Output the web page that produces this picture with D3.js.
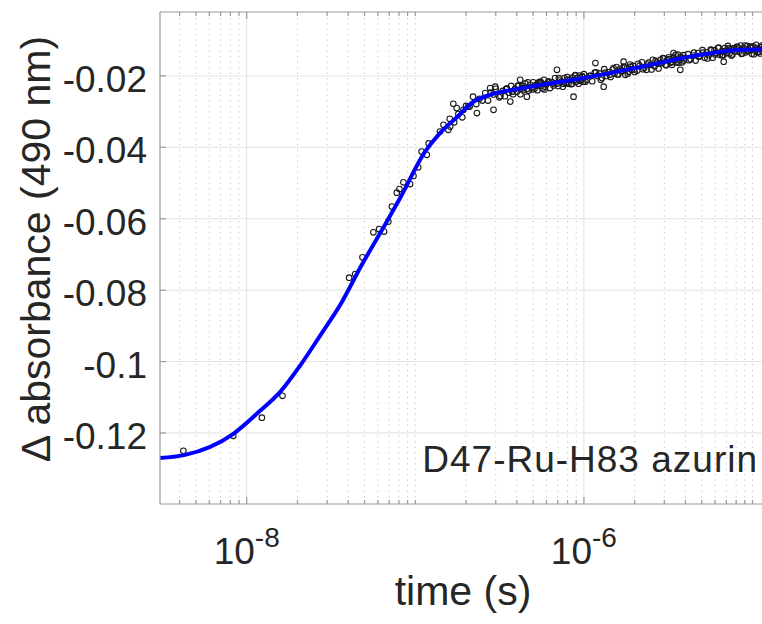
<!DOCTYPE html>
<html>
<head>
<meta charset="utf-8">
<script src="https://cdn.jsdelivr.net/npm/d3@7"></script>
<style>
  body { margin: 0; background: #fff; }
  svg { display: block; }
  text { font-family: "Liberation Sans", Arial, sans-serif; fill: #262626; }
</style>
</head>
<body>
<div id="container"></div>
<script>
// fitted curve (blue)
const fitTime = [3.06e-9, 4.25e-9, 8.3e-9, 1.2e-8, 1.58e-8, 2.07e-8, 2.72e-8, 3.67e-8, 4.7e-8, 6.44e-8,
    8.13e-8, 1.14e-7, 1.4e-7, 1.77e-7, 2.2e-7, 2.78e-7, 4.37e-7, 9.91e-7, 2.16e-6, 4.9e-6, 8.47e-6, 1.2e-5];
const fitAbs = [-0.1270, -0.1262, -0.1203, -0.1138, -0.1085, -0.1012, -0.0928, -0.0833, -0.0738, -0.0626,
    -0.0542, -0.0413, -0.0360, -0.0315, -0.0273, -0.0253, -0.0234, -0.0206, -0.0175, -0.0141, -0.0127, -0.0125];

// measured points (open circles)
const obsTime = [
    4.21e-9, 8.32e-9, 1.23e-8, 1.63e-8, 4.05e-8, 4.4e-8, 4.86e-8, 5.64e-8, 6.1e-8, 6.53e-8,
    6.92e-8, 7.26e-8, 7.77e-8, 8.05e-8, 8.5e-8, 9.31e-8, 9.75e-8, 1.04e-7, 1.09e-7, 1.17e-7,
    1.2e-7, 1.4e-7, 1.47e-7, 1.57e-7, 1.61e-7, 1.68e-7, 1.76e-7, 1.93e-7, 2.06e-7, 2.32e-7,
    2.91e-7, 2.78e-7, 2.98e-7, 3.66e-7, 4.19e-7, 4.59e-7, 5.51e-7, 6.92e-7, 8.68e-7, 1.17e-6,
    1.31e-6, 1.72e-6, 3.4e-6, 3.73e-6, 6.75e-6,
    1.6e-7, 1.7e-7, 1.8e-7, 1.9e-7, 2.0e-7, 2.1e-7, 2.2e-7, 2.3e-7, 2.4e-7, 2.5e-7,
    2.6e-7, 2.7e-7, 2.8e-7, 2.9e-7, 3.0e-7,
    3.2e-7, 3.3e-7, 3.4e-7, 3.5e-7, 3.6e-7, 3.7e-7, 3.8e-7, 3.9e-7, 4.0e-7, 4.1e-7,
    4.2e-7, 4.3e-7, 4.4e-7, 4.5e-7, 4.6e-7, 4.7e-7, 4.8e-7, 4.9e-7, 5.0e-7, 5.1e-7,
    5.2e-7, 5.3e-7, 5.4e-7, 5.5e-7, 5.6e-7, 5.7e-7, 5.8e-7, 5.9e-7, 6.0e-7,
    6.15e-7, 6.3e-7, 6.45e-7, 6.6e-7, 6.75e-7, 6.9e-7, 7.05e-7, 7.2e-7, 7.35e-7, 7.5e-7,
    7.65e-7, 7.8e-7, 7.95e-7, 8.1e-7, 8.25e-7, 8.4e-7, 8.55e-7, 8.7e-7, 8.85e-7, 9.0e-7,
    9.15e-7, 9.3e-7, 9.45e-7, 9.6e-7, 9.75e-7, 9.9e-7,
    1.0e-6, 1.04e-6, 1.08e-6, 1.12e-6, 1.16e-6, 1.2e-6, 1.24e-6, 1.28e-6, 1.32e-6, 1.36e-6,
    1.4e-6, 1.44e-6, 1.48e-6, 1.52e-6, 1.56e-6, 1.6e-6, 1.64e-6, 1.68e-6, 1.72e-6, 1.76e-6,
    1.8e-6, 1.84e-6, 1.88e-6, 1.92e-6, 1.96e-6, 2.0e-6,
    2.07e-6, 2.14e-6, 2.21e-6, 2.28e-6, 2.35e-6, 2.42e-6, 2.49e-6, 2.56e-6, 2.63e-6, 2.7e-6,
    2.77e-6, 2.84e-6, 2.91e-6, 2.98e-6, 3.05e-6, 3.12e-6, 3.19e-6, 3.26e-6, 3.33e-6, 3.4e-6,
    3.47e-6, 3.54e-6, 3.61e-6, 3.68e-6, 3.75e-6, 3.82e-6, 3.89e-6, 3.96e-6,
    4.15e-6, 4.3e-6, 4.45e-6, 4.6e-6, 4.75e-6, 4.9e-6, 5.05e-6, 5.2e-6, 5.35e-6, 5.5e-6,
    5.65e-6, 5.8e-6, 5.95e-6, 6.1e-6, 6.25e-6, 6.4e-6, 6.55e-6, 6.7e-6, 6.85e-6, 7.0e-6,
    7.15e-6, 7.3e-6, 7.45e-6, 7.6e-6, 7.75e-6, 7.9e-6,
    8.1e-6, 8.3e-6, 8.5e-6, 8.7e-6, 8.9e-6, 9.1e-6, 9.3e-6, 9.5e-6, 9.7e-6, 9.9e-6,
    1.01e-5, 1.03e-5, 1.05e-5, 1.07e-5, 1.09e-5, 1.11e-5, 1.13e-5, 1.15e-5, 1.17e-5, 1.19e-5,
    3.15e-7, 3.45e-7, 3.75e-7, 4.05e-7, 4.35e-7, 4.65e-7, 4.95e-7, 5.25e-7, 5.55e-7, 5.85e-7,
    6.2e-7, 6.7e-7, 7.1e-7, 7.6e-7, 8.0e-7, 8.5e-7, 8.9e-7, 9.4e-7, 9.8e-7,
    1.02e-6, 1.1e-6, 1.18e-6, 1.26e-6, 1.34e-6, 1.42e-6, 1.5e-6, 1.58e-6, 1.66e-6, 1.74e-6,
    1.82e-6, 1.9e-6, 1.98e-6,
    2.1e-6, 2.24e-6, 2.38e-6, 2.52e-6, 2.66e-6, 2.8e-6, 2.94e-6, 3.08e-6, 3.22e-6, 3.36e-6,
    3.5e-6, 3.64e-6, 3.78e-6, 3.92e-6,
    4.2e-6, 4.5e-6, 4.8e-6, 5.1e-6, 5.4e-6, 5.7e-6, 6.0e-6, 6.3e-6, 6.6e-6, 6.9e-6,
    7.2e-6, 7.5e-6, 7.8e-6,
    8.2e-6, 8.6e-6, 9.0e-6, 9.4e-6, 9.8e-6, 1.02e-5, 1.06e-5, 1.1e-5, 1.14e-5, 1.18e-5
];
const obsAbs = [
    -0.1250, -0.1208, -0.1157, -0.1096, -0.0765, -0.0755, -0.0708, -0.0638, -0.0629, -0.0636,
    -0.0608, -0.0566, -0.0527, -0.0517, -0.0498, -0.0503, -0.0480, -0.0456, -0.0412, -0.0421,
    -0.0389, -0.0356, -0.0337, -0.0351, -0.0342, -0.0278, -0.0290, -0.0295, -0.0286, -0.0304,
    -0.0295, -0.0234, -0.0230, -0.0272, -0.0211, -0.0258, -0.0216, -0.0183, -0.0258, -0.0164,
    -0.0230, -0.0160, -0.0136, -0.0183, -0.0160,
    -0.0320, -0.0330, -0.0307, -0.0316, -0.0284, -0.0286, -0.0258, -0.0279, -0.0264, -0.0269,
    -0.0248, -0.0269, -0.0247, -0.0252, -0.0236,
    -0.0256, -0.0242, -0.0257, -0.0235, -0.0247, -0.0228, -0.0251, -0.0236, -0.0244, -0.0227,
    -0.0251, -0.0228, -0.0234, -0.0221, -0.0236, -0.0241, -0.0225, -0.0232, -0.0218, -0.0235,
    -0.0225, -0.0240, -0.0218, -0.0227, -0.0221, -0.0235, -0.0211, -0.0230, -0.0222,
    -0.0215, -0.0234, -0.0217, -0.0227, -0.0206, -0.0222, -0.0228, -0.0211, -0.0216, -0.0230,
    -0.0206, -0.0220, -0.0203, -0.0222, -0.0211, -0.0223, -0.0205, -0.0213, -0.0199, -0.0216,
    -0.0206, -0.0222, -0.0199, -0.0212, -0.0202, -0.0216,
    -0.0195, -0.0211, -0.0200, -0.0215, -0.0191, -0.0200, -0.0193, -0.0206, -0.0181, -0.0200,
    -0.0190, -0.0203, -0.0182, -0.0193, -0.0175, -0.0196, -0.0180, -0.0187, -0.0174, -0.0197,
    -0.0178, -0.0188, -0.0168, -0.0183, -0.0172, -0.0189,
    -0.0185, -0.0171, -0.0162, -0.0177, -0.0183, -0.0163, -0.0169, -0.0155, -0.0173, -0.0163,
    -0.0179, -0.0155, -0.0164, -0.0151, -0.0169, -0.0156, -0.0148, -0.0163, -0.0169, -0.0148,
    -0.0154, -0.0162, -0.0140, -0.0156, -0.0146, -0.0162, -0.0142, -0.0151,
    -0.0139, -0.0153, -0.0143, -0.0157, -0.0136, -0.0144, -0.0128, -0.0149, -0.0134, -0.0142,
    -0.0126, -0.0149, -0.0128, -0.0136, -0.0122, -0.0141, -0.0131, -0.0142, -0.0122, -0.0136,
    -0.0116, -0.0137, -0.0125, -0.0140, -0.0122, -0.0131,
    -0.0118, -0.0132, -0.0115, -0.0137, -0.0123, -0.0134, -0.0116, -0.0129, -0.0121, -0.0138,
    -0.0118, -0.0129, -0.0113, -0.0134, -0.0125, -0.0137, -0.0119, -0.0130, -0.0116, -0.0132,
    -0.0260, -0.0237, -0.0244, -0.0228, -0.0240, -0.0218, -0.0238, -0.0227, -0.0218, -0.0238,
    -0.0218, -0.0221, -0.0206, -0.0222, -0.0210, -0.0222, -0.0198, -0.0213, -0.0201,
    -0.0216, -0.0200, -0.0190, -0.0211, -0.0191, -0.0197, -0.0178, -0.0196, -0.0186, -0.0177,
    -0.0194, -0.0174, -0.0182,
    -0.0166, -0.0181, -0.0168, -0.0182, -0.0158, -0.0165, -0.0150, -0.0170, -0.0153, -0.0161,
    -0.0141, -0.0163, -0.0150, -0.0157,
    -0.0156, -0.0135, -0.0146, -0.0135, -0.0151, -0.0128, -0.0140, -0.0121, -0.0142, -0.0130,
    -0.0123, -0.0143, -0.0124,
    -0.0121, -0.0138, -0.0115, -0.0130, -0.0118, -0.0139, -0.0122, -0.0132, -0.0115, -0.0127
];

const yTicks = [-0.12, -0.1, -0.08, -0.06, -0.04, -0.02];
const yTickLabels = ['-0.12', '-0.1', '-0.08', '-0.06', '-0.04', '-0.02'];
const xMajorTicks = [1e-8, 1e-6, 1e-4];
const xTickExponents = ['-8', '-6', '-4'];

const W = 762, H = 624;
const box = { left: 160, top: 12, right: 820, bottom: 504 };

const svg = d3.select('#container').append('svg')
    .attr('width', W)
    .attr('height', H);

const x = d3.scaleLog().domain([3.06e-9, 1e-5]).range([box.left, 752.5]);
const y = d3.scaleLinear().domain([-0.14, -0.0021]).range([504.4, box.top]);

const xEnd = x.invert(box.right);
const minorTicks = d3.scaleLog().domain([x.domain()[0], xEnd]).ticks()
    .filter(t => !xMajorTicks.some(m => Math.abs(t / m - 1) < 1e-6));

// grid
const grid = svg.append('g');
grid.selectAll('.minor').data(minorTicks).enter().append('line')
    .attr('x1', d => x(d)).attr('x2', d => x(d))
    .attr('y1', box.top).attr('y2', box.bottom)
    .attr('stroke', '#cfcfcf').attr('stroke-width', 1)
    .attr('stroke-dasharray', '1.5,4');
grid.selectAll('.majx').data(xMajorTicks).enter().append('line')
    .attr('x1', d => x(d)).attr('x2', d => x(d))
    .attr('y1', box.top).attr('y2', box.bottom)
    .attr('stroke', '#e2e2e2').attr('stroke-width', 1);
grid.selectAll('.majy').data(yTicks).enter().append('line')
    .attr('x1', box.left).attr('x2', box.right)
    .attr('y1', d => y(d)).attr('y2', d => y(d))
    .attr('stroke', '#e2e2e2').attr('stroke-width', 1);

// data
svg.append('clipPath').attr('id', 'clip')
    .append('rect')
    .attr('x', box.left).attr('y', box.top)
    .attr('width', box.right - box.left).attr('height', box.bottom - box.top);

const plot = svg.append('g').attr('clip-path', 'url(#clip)');

plot.selectAll('circle').data(obsTime).enter().append('circle')
    .attr('cx', d => x(d))
    .attr('cy', (d, i) => y(obsAbs[i]))
    .attr('r', 2.8)
    .attr('fill', 'none')
    .attr('stroke', '#1a1a1a')
    .attr('stroke-width', 1.1);

const line = d3.line()
    .x(d => x(d))
    .y((d, i) => y(fitAbs[i]))
    .curve(d3.curveMonotoneX);

plot.append('path')
    .datum(fitTime)
    .attr('d', line)
    .attr('fill', 'none')
    .attr('stroke', '#0000ff')
    .attr('stroke-width', 4);

// axes box and ticks
const axisColor = '#9a9a9a';
const axes = svg.append('g').attr('stroke', axisColor).attr('stroke-width', 1.2);
axes.append('line').attr('x1', box.left).attr('x2', box.left).attr('y1', box.top).attr('y2', box.bottom);
axes.append('line').attr('x1', box.left).attr('x2', box.right).attr('y1', box.top).attr('y2', box.top);
axes.append('line').attr('x1', box.left).attr('x2', box.right).attr('y1', box.bottom).attr('y2', box.bottom);

axes.selectAll('.yt').data(yTicks).enter().append('line')
    .attr('x1', box.left).attr('x2', box.left + 6)
    .attr('y1', d => y(d)).attr('y2', d => y(d));

const allX = xMajorTicks.map(t => ({ t, len: 7 })).concat(minorTicks.map(t => ({ t, len: 4 })));
axes.selectAll('.xb').data(allX).enter().append('line')
    .attr('x1', d => x(d.t)).attr('x2', d => x(d.t))
    .attr('y1', box.bottom).attr('y2', d => box.bottom - d.len);
axes.selectAll('.xt').data(allX).enter().append('line')
    .attr('x1', d => x(d.t)).attr('x2', d => x(d.t))
    .attr('y1', box.top).attr('y2', d => box.top + d.len);

// tick labels
svg.selectAll('.ylab').data(yTicks).enter().append('text')
    .attr('x', 147)
    .attr('y', d => y(d) + 16)
    .attr('text-anchor', 'end')
    .attr('font-size', 37)
    .text((d, i) => yTickLabels[i]);

// only the labels that fall inside the window
const xLabelData = xMajorTicks.map((t, i) => ({ t, e: xTickExponents[i] })).filter(d => x(d.t) < W - 40);
const xl = svg.selectAll('.xlab').data(xLabelData).enter().append('text')
    .attr('x', d => x(d.t))
    .attr('y', 564)
    .attr('text-anchor', 'middle')
    .attr('font-size', 37);
xl.append('tspan').text('10');
xl.append('tspan').attr('dy', -17).attr('font-size', 28).text(d => d.e);

// axis titles
svg.append('text')
    .attr('x', 463).attr('y', 605)
    .attr('text-anchor', 'middle')
    .attr('font-size', 41)
    .text('time (s)');

svg.append('text')
    .attr('transform', 'translate(50,249) rotate(-90)')
    .attr('text-anchor', 'middle')
    .attr('font-size', 41)
    .text('Δ absorbance (490 nm)');

// annotation
svg.append('text')
    .attr('x', 758).attr('y', 472)
    .attr('text-anchor', 'end')
    .attr('font-size', 37)
    .attr('letter-spacing', 1)
    .text('D47-Ru-H83 azurin');
</script>
</body>
</html>
